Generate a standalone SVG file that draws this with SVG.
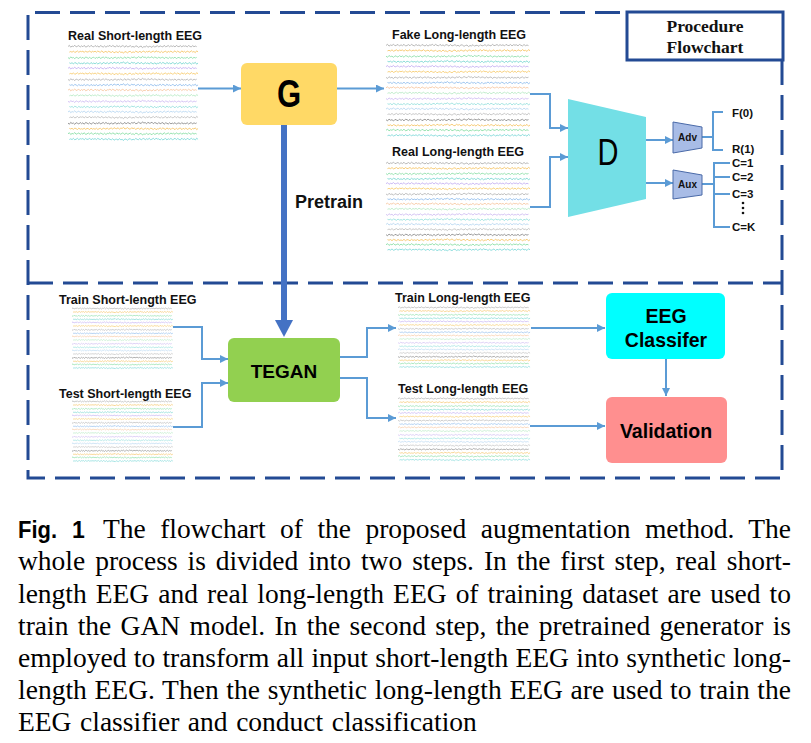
<svg xmlns="http://www.w3.org/2000/svg" xmlns:xlink="http://www.w3.org/1999/xlink" width="811" height="743" viewBox="0 0 811 743">
<style>
.lbl{font-family:"Liberation Sans",Arial,sans-serif;font-weight:bold;font-size:12.5px;fill:#111}
.big{font-family:"Liberation Sans",Arial,sans-serif;font-weight:bold;fill:#000;text-anchor:middle}
.sm{font-family:"Liberation Sans",Arial,sans-serif;font-weight:bold;font-size:11.5px;fill:#111}
.cap{font-family:"Liberation Serif","Times New Roman",serif;font-size:27.5px;fill:#000}
.dash{fill:none;stroke:#234a94;stroke-width:3;stroke-dasharray:25 10}
.w{fill:none;stroke-width:0.75;vector-effect:non-scaling-stroke;stroke-linejoin:round}
.conn{fill:none;stroke:#5b9bd5;stroke-width:2;marker-end:url(#ah)}
.line{fill:none;stroke:#5b9bd5;stroke-width:2}
</style>
<defs>
<marker id="ah" markerUnits="userSpaceOnUse" markerWidth="9" markerHeight="8" refX="8" refY="4" orient="auto">
<path d="M0,0 L8,4 L0,8 z" fill="#5b9bd5"/>
</marker>
<path id="wv" class="w" d="M0,0 l1.5,-1.2 1.5,1.8 1.5,-1.1 1.5,0.5 1.5,-1.3 1.5,1.6 1.5,-0.6 1.5,-0.7 1.5,1.5 1.5,-1.2 1.5,0.9 1.5,-1.4 1.5,1.7 1.5,-0.5 1.5,-0.9 1.5,1.2 1.5,-1.5 1.5,1.1 1.5,0.4 1.5,-1.3 1.5,1 1.5,-0.6 1.5,1.2 1.5,-1.6 1.5,0.8 1.5,0.7 1.5,-1.2 1.5,1.3 1.5,-1.1 1.5,0.2 1.5,-0.9 1.5,1.5 1.5,-1.4 1.5,0.9 1.5,0.6 1.5,-1.5 1.5,1.2 1.5,-0.7 1.5,1 1.5,-1.3 1.5,0.4 1.5,1.1 1.5,-1.6 1.5,1.4 1.5,-0.5 1.5,-0.8 1.5,1.3 1.5,-0.6 1.5,0.9 1.5,-1.4 1.5,0.3 1.5,1.2 1.5,-0.8 1.5,-0.5 1.5,1.6 1.5,-1.1 1.5,0.4 1.5,-1.2 1.5,1.5 1.5,-0.9 1.5,0.2 1.5,0.8 1.5,-1.5 1.5,1.1 1.5,-0.4 1.5,-0.9 1.5,1.4 1.5,-1.2 1.5,0.6 1.5,0.5 1.5,-1.6 1.5,1.3 1.5,-0.3 1.5,-0.8 1.5,1.2 1.5,-1 1.5,0.7 1.5,-0.6 1.5,1.1 1.5,-1.5 1.5,0.9 1.5,0.3 1.5,-1.1 1.5,1.4 1.5,-1.2 1.5,0.5 1.5,-0.4 1.5,1 1.5,-1.3 1.5,0.8 1.5,0.6 1.5,-1.4 1.5,1.2 1.5,-0.7 1.5,0.6"/>
<g id="eeg">
<use xlink:href="#wv" stroke="#9a9a9a" transform="translate(0,2.5)"/>
<use xlink:href="#wv" stroke="#f4b63e" transform="translate(144,7.8) scale(-1,1)"/>
<use xlink:href="#wv" stroke="#72d894" transform="translate(0,13.1) scale(1,-1)"/>
<use xlink:href="#wv" stroke="#56cec6" transform="translate(144,18.4) scale(-1,-1)"/>
<use xlink:href="#wv" stroke="#b69cf0" transform="translate(0,23.7)"/>
<use xlink:href="#wv" stroke="#f5bf48" transform="translate(144,29) scale(-1,1)"/>
<use xlink:href="#wv" stroke="#a4a4a4" transform="translate(0,34.3) scale(1,-1)"/>
<use xlink:href="#wv" stroke="#76aeea" transform="translate(144,39.6) scale(-1,-1)"/>
<use xlink:href="#wv" stroke="#f5b98a" transform="translate(0,44.9)"/>
<use xlink:href="#wv" stroke="#a6e6b6" transform="translate(144,50.2) scale(-1,1)"/>
<use xlink:href="#wv" stroke="#c4acf0" transform="translate(0,55.5) scale(1,-1)"/>
<use xlink:href="#wv" stroke="#7cdad6" transform="translate(144,60.8) scale(-1,-1)"/>
<use xlink:href="#wv" stroke="#a6ceef" transform="translate(0,66.1)"/>
<use xlink:href="#wv" stroke="#b0b0b0" transform="translate(144,71.4) scale(-1,1)"/>
<use xlink:href="#wv" stroke="#6c6c6c" transform="translate(0,76.7) scale(1,-1)"/>
<use xlink:href="#wv" stroke="#f4b63e" transform="translate(144,82) scale(-1,-1)"/>
<use xlink:href="#wv" stroke="#68d68c" transform="translate(0,87.3)"/>
<use xlink:href="#wv" stroke="#5ccfcf" transform="translate(144,92.6) scale(-1,1)"/>
</g>
</defs>
<rect width="811" height="743" fill="#fff"/>

<g id="frame">
<path class="dash" d="M35,12.5 H627"/>
<path class="dash" d="M28,15 V478 H782"/>
<path class="dash" d="M782,60 V478"/>
<path class="dash" d="M28,283 H782"/>
</g>

<g id="procedure-flowchart">
<rect x="627" y="12" width="156" height="48" fill="#fff" stroke="#234a94" stroke-width="3"/>
<text x="705" y="32" text-anchor="middle" font-family="'Liberation Serif','Times New Roman',serif" font-weight="bold" font-size="17.5" fill="#111">Procedure</text>
<text x="705" y="53" text-anchor="middle" font-family="'Liberation Serif','Times New Roman',serif" font-weight="bold" font-size="17.5" fill="#111">Flowchart</text>
</g>

<g id="connectors">
<path class="conn" d="M198,88.5 H241"/>
<path class="conn" d="M337,88.5 H384"/>
<path class="conn" d="M530,94 H550 V128 H568"/>
<path class="conn" d="M530,207 H550 V157 H568"/>
<path class="conn" d="M646,140 H673"/>
<path class="conn" d="M646,183 H673"/>
<path class="line" d="M702,137 H713 M723,112 H713 V150 H723"/>
<path class="line" d="M702,184 H714 M730,163 H714 V227 H730 M714,177 H730 M714,194 H730"/>
<path d="M284,125 V321" stroke="#4472c4" stroke-width="6" fill="none"/>
<polygon points="275,320 293,320 284,337" fill="#4472c4"/>
<path class="conn" d="M173,327 H202 V359 H228"/>
<path class="conn" d="M173,427 H202 V383 H228"/>
<path class="conn" d="M340,357 H367 V328 H396"/>
<path class="conn" d="M340,378 H367 V418 H396"/>
<path class="conn" d="M531,328 H605"/>
<path class="conn" d="M530,426 H605"/>
<path class="conn" d="M666,359 V396"/>
</g>

<g id="real-short-eeg">
<text class="lbl" x="68" y="40">Real Short-length EEG</text>
<use xlink:href="#eeg" opacity="0.9" transform="translate(68,44) scale(0.903,1.03)"/>
</g>
<g id="g-node">
<rect x="241" y="63" width="96" height="62" rx="6" fill="#ffd966"/>
<text class="big" font-size="31" transform="translate(289,107) scale(1,1.25)">G</text>
</g>
<text id="pretrain-label" class="lbl" x="295" y="208" style="font-size:18px">Pretrain</text>
<g id="fake-long-eeg">
<text class="lbl" x="392" y="39">Fake Long-length EEG</text>
<use xlink:href="#eeg" opacity="0.9" transform="translate(386,43)"/>
</g>
<g id="real-long-eeg">
<text class="lbl" x="392" y="156">Real Long-length EEG</text>
<use xlink:href="#eeg" opacity="0.9" transform="translate(386,161) scale(1,0.96)"/>
</g>
<g id="d-node">
<polygon points="568,99 646,117 646,199 568,217" fill="#73dfe6"/>
<text font-family="'Liberation Sans',Arial,sans-serif" font-size="29" text-anchor="middle" fill="#000" transform="translate(608,165) scale(1,1.25)">D</text>
</g>
<g id="adv-node">
<polygon points="673,122 702,127 702,148 673,153" fill="#a8bce6" stroke="#4a6aa8" stroke-width="1"/>
<text x="687.5" y="141" text-anchor="middle" font-family="'Liberation Sans',Arial,sans-serif" font-weight="bold" font-size="10" fill="#111">Adv</text>
</g>
<g id="aux-node">
<polygon points="673,170 702,175 702,195 673,199" fill="#a8bce6" stroke="#4a6aa8" stroke-width="1"/>
<text x="687.5" y="188" text-anchor="middle" font-family="'Liberation Sans',Arial,sans-serif" font-weight="bold" font-size="10" fill="#111">Aux</text>
</g>
<g id="outputs">
<text class="sm" x="732" y="117">F(0)</text>
<text class="sm" x="732" y="153">R(1)</text>
<text class="sm" x="732" y="167">C=1</text>
<text class="sm" x="732" y="181">C=2</text>
<text class="sm" x="732" y="198">C=3</text>
<text class="sm" x="732" y="231">C=K</text>
<circle cx="743" cy="203" r="1.3" fill="#111"/>
<circle cx="743" cy="208" r="1.3" fill="#111"/>
<circle cx="743" cy="213" r="1.3" fill="#111"/>
</g>

<g id="train-short-eeg">
<text class="lbl" x="59" y="304">Train Short-length EEG</text>
<use xlink:href="#eeg" opacity="0.7" transform="translate(72,307) scale(0.70,0.66)"/>
</g>
<g id="test-short-eeg">
<text class="lbl" x="59" y="398">Test Short-length EEG</text>
<use xlink:href="#eeg" opacity="0.7" transform="translate(72,400) scale(0.70,0.66)"/>
</g>
<g id="tegan-node">
<rect x="228" y="338" width="112" height="64" rx="6" fill="#92d050"/>
<text class="big" x="284" y="378" font-size="19">TEGAN</text>
</g>
<g id="train-long-eeg">
<text class="lbl" x="395" y="302">Train Long-length EEG</text>
<use xlink:href="#eeg" opacity="0.7" transform="translate(398,306) scale(0.917,0.66)"/>
</g>
<g id="test-long-eeg">
<text class="lbl" x="398" y="393">Test Long-length EEG</text>
<use xlink:href="#eeg" opacity="0.7" transform="translate(398,397) scale(0.917,0.68)"/>
</g>
<g id="classifier-node">
<rect x="606" y="293" width="119" height="66" rx="6" fill="#00ffff"/>
<text class="big" x="666" y="323" font-size="19.5">EEG</text>
<text class="big" x="666" y="347" font-size="19.5">Classifer</text>
</g>
<g id="validation-node">
<rect x="606" y="397" width="121" height="66" rx="6" fill="#ff8f8f"/>
<text class="big" x="666" y="438" font-size="19.5">Validation</text>
</g>

<g id="caption">
<text x="18" y="538" font-family="'Liberation Sans',Arial,sans-serif" font-weight="bold" font-size="23" fill="#000"><tspan x="18" textLength="39" lengthAdjust="spacingAndGlyphs">Fig.</tspan><tspan x="72">1</tspan></text>
<text class="cap" x="103" y="538" word-spacing="7.5" textLength="688">The flowchart of the proposed augmentation method. The</text>
<text class="cap" x="18" y="570" word-spacing="3.1" textLength="773">whole process is divided into two steps. In the first step, real short-</text>
<text class="cap" x="18" y="602.5" word-spacing="2.2" textLength="773">length EEG and real long-length EEG of training dataset are used to</text>
<text class="cap" x="18" y="634.5" word-spacing="2.4" textLength="773">train the GAN model. In the second step, the pretrained generator is</text>
<text class="cap" x="18" y="666.5" word-spacing="0.4" textLength="773">employed to transform all input short-length EEG into synthetic long-</text>
<text class="cap" x="18" y="699" word-spacing="0.8" textLength="773">length EEG. Then the synthetic long-length EEG are used to train the</text>
<text class="cap" x="18" y="731" word-spacing="1.7">EEG classifier and conduct classification</text>
</g>
</svg>
